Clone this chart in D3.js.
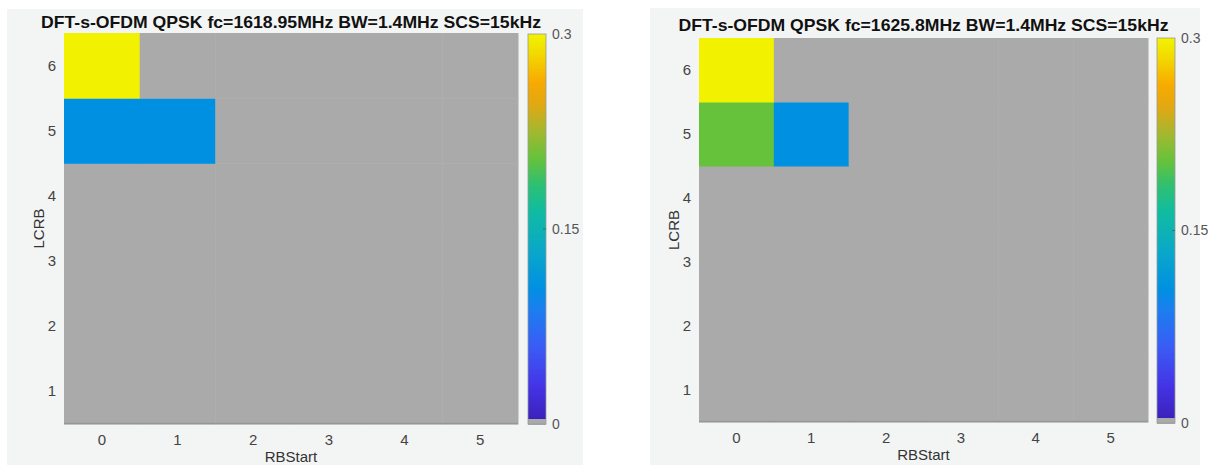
<!DOCTYPE html>
<html>
<head>
<meta charset="utf-8">
<script src="https://cdn.jsdelivr.net/npm/d3@7"></script>
<style>
  body { margin: 0; background: #ffffff; }
  svg { display: block; }
  text { font-family: "Liberation Sans", Arial, Helvetica, sans-serif; }
</style>
</head>
<body>
<svg id="chart" width="1208" height="465"></svg>
<script>
// ---- data ----
var rbStart = [0, 1, 2, 3, 4, 5];
var lcrb = [1, 2, 3, 4, 5, 6];
var titles = [
  "DFT-s-OFDM QPSK fc=1618.95MHz BW=1.4MHz SCS=15kHz",
  "DFT-s-OFDM QPSK fc=1625.8MHz BW=1.4MHz SCS=15kHz"
];
// rows = LCRB 1..6, columns = RBStart 0..5 (0 = not tested, drawn gray)
var valuesLeft = [
  [0, 0, 0, 0, 0, 0],
  [0, 0, 0, 0, 0, 0],
  [0, 0, 0, 0, 0, 0],
  [0, 0, 0, 0, 0, 0],
  [0.105, 0.105, 0, 0, 0, 0],
  [0.3, 0, 0, 0, 0, 0]
];
var valuesRight = [
  [0, 0, 0, 0, 0, 0],
  [0, 0, 0, 0, 0, 0],
  [0, 0, 0, 0, 0, 0],
  [0, 0, 0, 0, 0, 0],
  [0.205, 0.105, 0, 0, 0, 0],
  [0.3, 0, 0, 0, 0, 0]
];
var colorTicks = [0, 0.15, 0.3];
var colorMax = 0.3;

// parula-like colormap
var mapStops = [0, 0.1, 0.2, 0.3, 0.35, 0.45, 0.55, 0.62, 0.68, 0.75, 0.82, 0.88, 0.95, 1];
var mapColors = ["#3a1eb4", "#4434e6", "#3a5cf5", "#1a80f0", "#0090e2", "#0aa8c8", "#10bca0",
                 "#30c070", "#64c23c", "#a0b830", "#e0a814", "#f8aa00", "#f2d800", "#f2f200"];
var parula = d3.scaleLinear().domain(mapStops).range(mapColors).clamp(true);
var grayCell = "#aaaaaa";

function cellColor(v) {
  if (v < colorMax / 64) return grayCell;
  return parula(v / colorMax);
}

var svg = d3.select("#chart");

function drawPanel(p) {
  // panel background
  svg.append("rect")
    .attr("x", p.bg[0]).attr("y", p.bg[1])
    .attr("width", p.bg[2]).attr("height", p.bg[3])
    .attr("fill", "#f3f5f5");

  var x = d3.scaleBand().domain(rbStart).range([p.left, p.right]);
  var y = d3.scaleBand().domain(lcrb.slice().reverse()).range([p.top, p.bottom]);

  var g = svg.append("g");
  var cells = [];
  p.values.forEach(function(row, i) {
    row.forEach(function(v, j) {
      cells.push({ l: lcrb[i], r: rbStart[j], v: v });
    });
  });

  g.selectAll("rect.cell")
    .data(cells)
    .enter()
    .append("rect")
    .attr("class", "cell")
    .attr("x", function(d) { return x(d.r); })
    .attr("y", function(d) { return y(d.l); })
    .attr("width", x.bandwidth() + 0.5)
    .attr("height", y.bandwidth() + 0.5)
    .attr("fill", function(d) { return cellColor(d.v); });

  // bottom axis line
  g.append("line")
    .attr("x1", p.left).attr("x2", p.right)
    .attr("y1", p.bottom - 0.5).attr("y2", p.bottom - 0.5)
    .attr("stroke", "#969696").attr("stroke-width", 1.5);

  // tick labels
  g.selectAll("text.xt")
    .data(rbStart)
    .enter()
    .append("text")
    .attr("class", "xt")
    .attr("x", function(d) { return x(d) + x.bandwidth() / 2; })
    .attr("y", p.bottom + 21)
    .attr("text-anchor", "middle")
    .attr("font-size", "15px")
    .attr("fill", "#444")
    .text(function(d) { return d; });

  g.selectAll("text.yt")
    .data(lcrb)
    .enter()
    .append("text")
    .attr("class", "yt")
    .attr("x", p.left - 8)
    .attr("y", function(d) { return y(d) + y.bandwidth() / 2 + 5; })
    .attr("text-anchor", "end")
    .attr("font-size", "15px")
    .attr("fill", "#444")
    .text(function(d) { return d; });

  // axis titles
  g.append("text")
    .attr("x", (p.left + p.right) / 2)
    .attr("y", p.bottom + 38)
    .attr("text-anchor", "middle")
    .attr("font-size", "15px")
    .attr("fill", "#333")
    .text("RBStart");

  g.append("text")
    .attr("transform", "translate(" + (p.left - 20) + "," + ((p.top + p.bottom) / 2) + ") rotate(-90)")
    .attr("text-anchor", "middle")
    .attr("font-size", "15px")
    .attr("fill", "#333")
    .text("LCRB");

  // title
  g.append("text")
    .attr("x", (p.left + p.right) / 2)
    .attr("y", p.titleY)
    .attr("text-anchor", "middle")
    .attr("font-size", "16.5px")
    .attr("font-weight", "bold")
    .attr("fill", "#111")
    .attr("textLength", p.titleW)
    .attr("lengthAdjust", "spacingAndGlyphs")
    .text(p.title);

  // colorbar
  var cy = d3.scaleLinear().domain([0, colorMax]).range([p.cbBottom, p.cbTop]);
  var steps = d3.range(0, 256);
  var stepH = (p.cbBottom - p.cbTop) / 256;
  g.selectAll("rect.cb")
    .data(steps)
    .enter()
    .append("rect")
    .attr("class", "cb")
    .attr("x", p.cbLeft)
    .attr("width", p.cbW)
    .attr("y", function(d) { return cy((d + 1) / 256 * colorMax); })
    .attr("height", function(d) { return d === 255 ? stepH : stepH + 1; })
    .attr("fill", function(d) {
      var v = (d + 0.5) / 256 * colorMax;
      return cellColor(v);
    })
    .attr("shape-rendering", "crispEdges");

  g.append("rect")
    .attr("x", p.cbLeft).attr("y", p.cbTop)
    .attr("width", p.cbW).attr("height", p.cbBottom - p.cbTop)
    .attr("fill", "none").attr("stroke", "#9a9a9a").attr("stroke-width", 0.8);

  var cbAxis = d3.axisRight(cy).tickValues(colorTicks).tickSize(0).tickPadding(6)
    .tickFormat(function(d) { return d === 0 ? "0" : String(d); });
  var ax = g.append("g")
    .attr("transform", "translate(" + (p.cbLeft + p.cbW) + ",0)")
    .call(cbAxis);
  ax.select(".domain").remove();
  ax.selectAll("text").attr("font-size", "14px").attr("fill", "#555")
    .attr("font-family", "Liberation Sans, Arial, sans-serif");

  g.selectAll("line.cbt")
    .data(colorTicks.slice(1, 2))
    .enter()
    .append("line")
    .attr("class", "cbt")
    .attr("x1", p.cbLeft + p.cbW - 3).attr("x2", p.cbLeft + p.cbW)
    .attr("y1", function(d) { return cy(d); })
    .attr("y2", function(d) { return cy(d); })
    .attr("stroke", "#555").attr("stroke-width", 0.8);
}

drawPanel({
  bg: [7, 9, 576, 460],
  left: 64, right: 518, top: 33, bottom: 424,
  titleY: 28, titleW: 500, title: titles[0],
  cbLeft: 528, cbW: 18, cbTop: 34, cbBottom: 424,
  values: valuesLeft
});

drawPanel({
  bg: [650, 8, 550, 460],
  left: 699, right: 1148, top: 38, bottom: 422,
  titleY: 31, titleW: 490, title: titles[1],
  cbLeft: 1157, cbW: 18, cbTop: 38, cbBottom: 423,
  values: valuesRight
});
</script>
</body>
</html>
